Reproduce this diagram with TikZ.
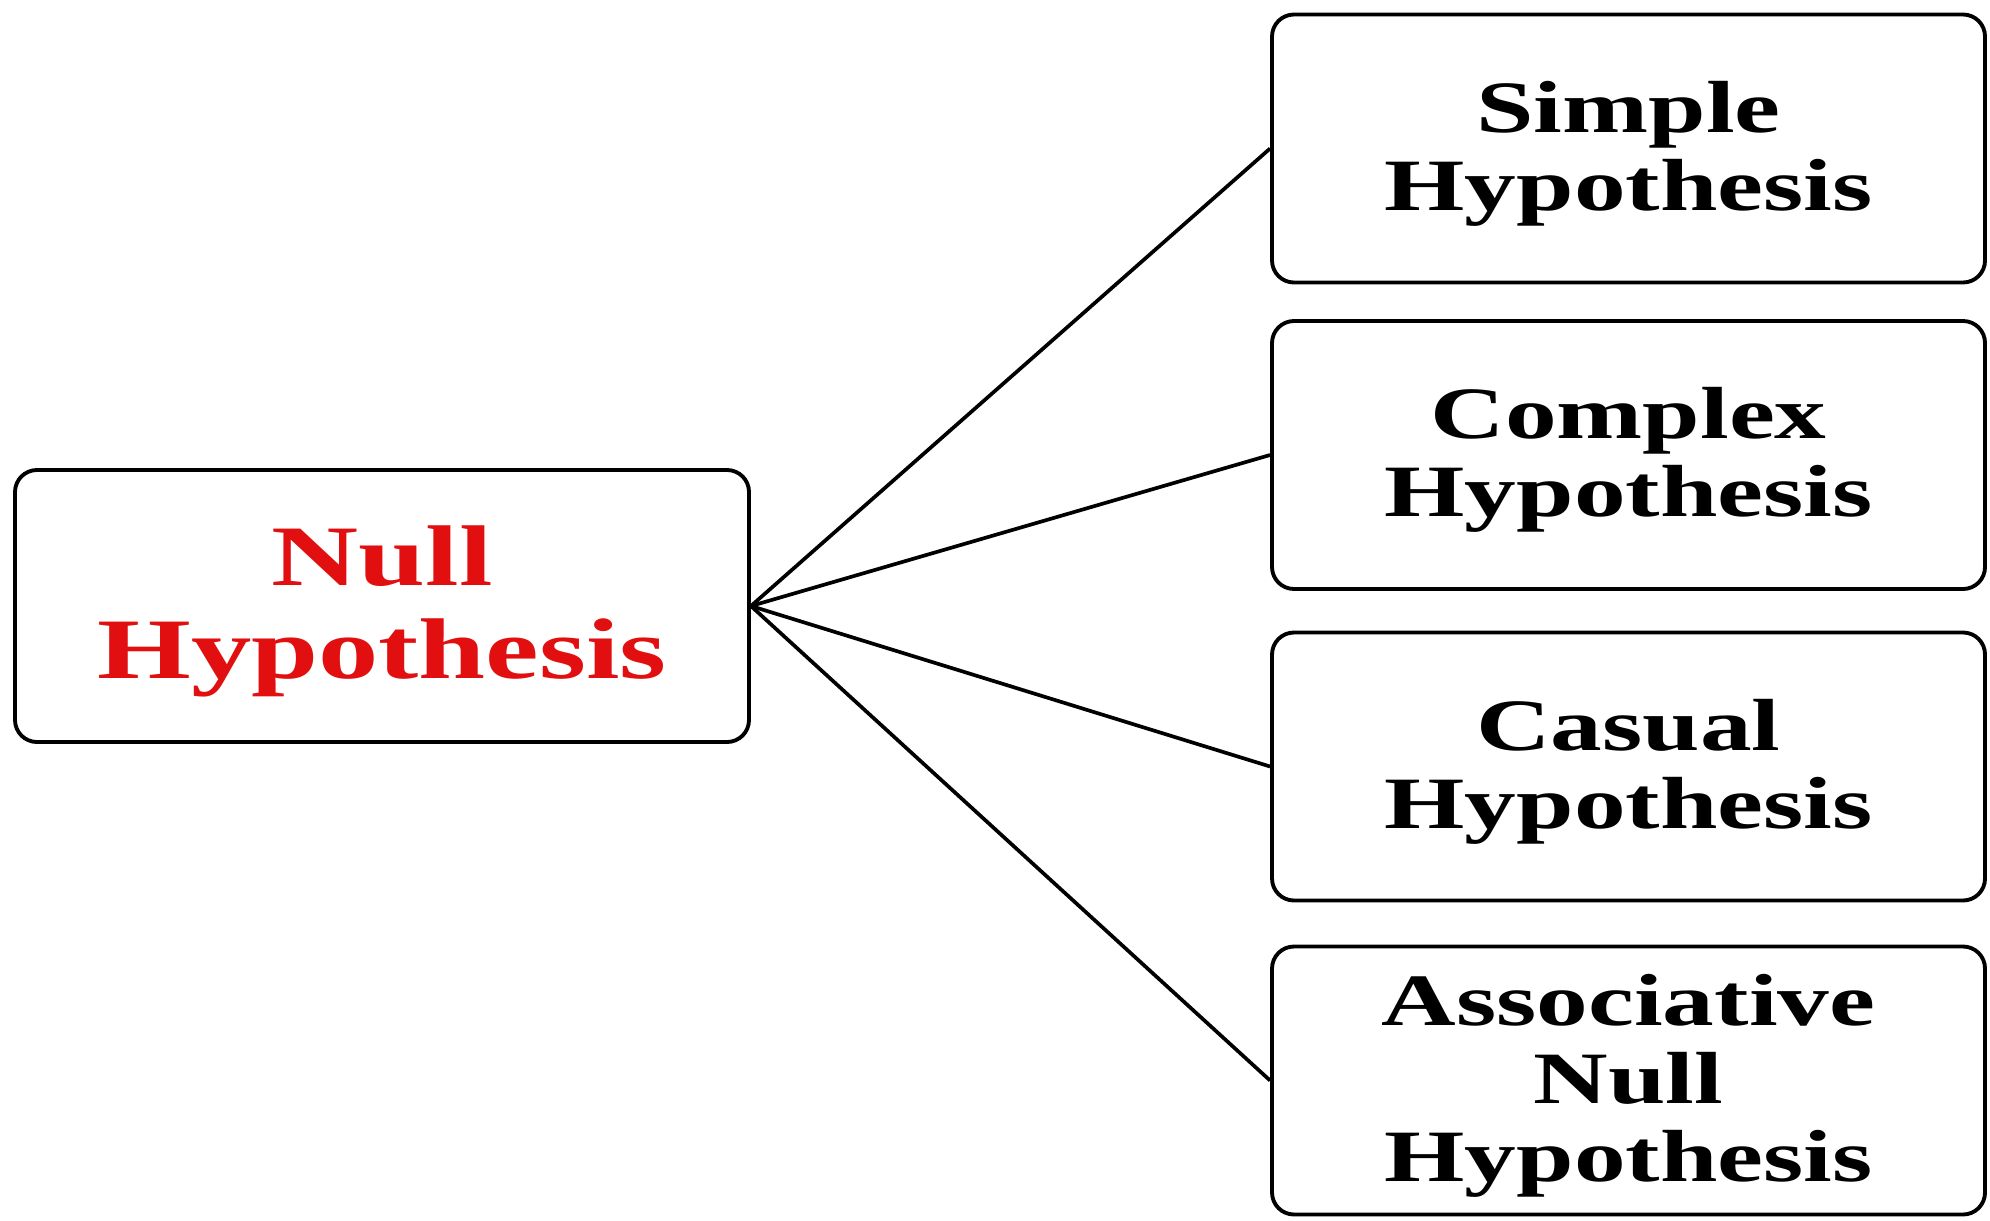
\documentclass[tikz,border=0pt]{standalone}
\usepackage{fontspec}
\setmainfont{Liberation Serif}
\usepackage{graphicx}
\usepackage{xcolor}
\definecolor{nullred}{RGB}{225,15,15}
\newcommand{\widetxt}[3]{\raisebox{-2pt}[\height][\depth]{\scalebox{1.4}[1]{\fontsize{#1}{#2}\selectfont\bfseries\begin{tabular}{@{}c@{}}#3\end{tabular}}}}
\tikzset{
  hypbox/.style={draw, line width=1.1pt, rounded corners=0.22cm, minimum width=7.13cm, minimum height=2.68cm, inner sep=0pt},
  link/.style={line width=1.05pt}
}

\begin{document}
\begin{tikzpicture}
	\useasboundingbox (0,0) rectangle (19.9,12.2);
	
	\node[hypbox, minimum width=7.34cm, minimum height=2.72cm] (null) at (3.82,6.14) {\widetxt{24.5}{26.5}{\color{nullred}Null\\\color{nullred}Hypothesis}};
	
	\node[hypbox] (simple) at (16.285,10.715) {\widetxt{21}{22.2}{Simple\\Hypothesis}};
	\node[hypbox] (complex) at (16.285,7.65) {\widetxt{21}{22.2}{Complex\\Hypothesis}};
	\node[hypbox] (casual) at (16.285,4.535) {\widetxt{21}{22.2}{Casual\\Hypothesis}};
	\node[hypbox] (assoc) at (16.285,1.395) {\widetxt{21}{22.2}{Associative\\Null\\Hypothesis}};
	
	\draw[link] (null.east) -- (simple.west);
	\draw[link] (null.east) -- (complex.west);
	\draw[link] (null.east) -- (casual.west);
	\draw[link] (null.east) -- (assoc.west);
\end{tikzpicture}
\end{document}
